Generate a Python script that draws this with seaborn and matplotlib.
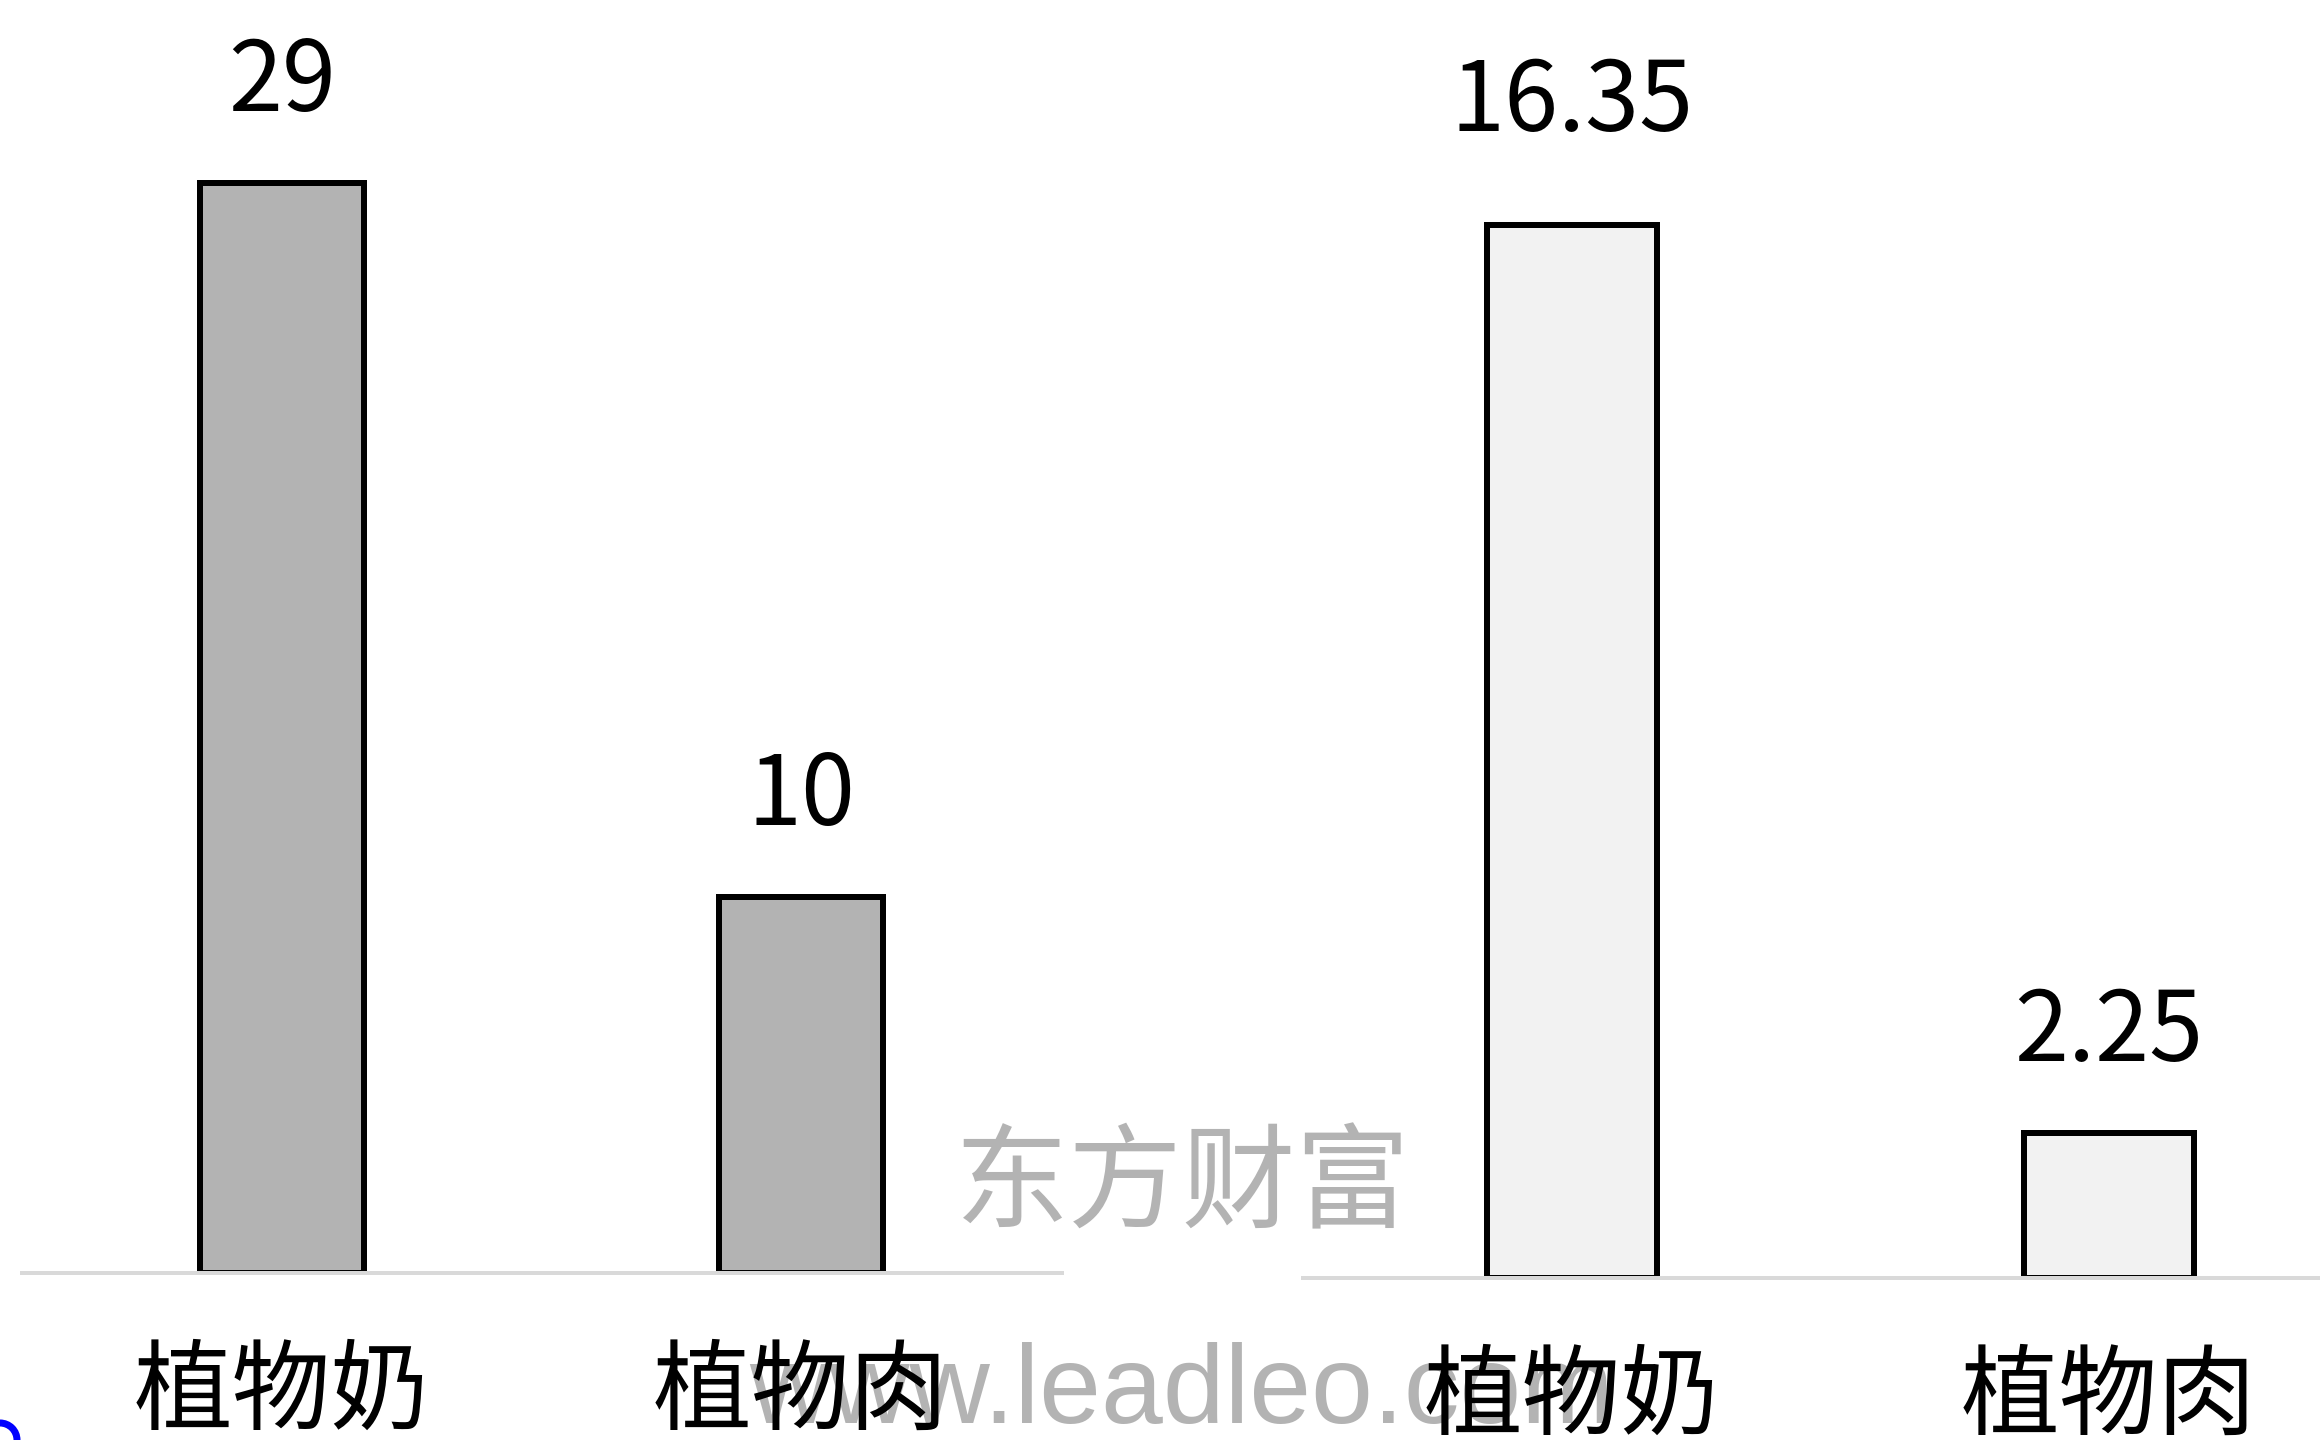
import matplotlib
matplotlib.use("Agg")
import matplotlib.pyplot as plt
from matplotlib.patches import Ellipse
import seaborn as sns
import pandas as pd

# ---- data ----
left_categories = ["植物奶", "植物肉"]
left_values = [29, 10]
left_labels = ["29", "10"]

right_categories = ["植物奶", "植物肉"]
right_values = [16.35, 2.25]
right_labels = ["16.35", "2.25"]

watermark_cn = "东方财富"
watermark_url = "www.leadleo.com"

# ---- style ----
sns.set_style("white")
plt.rcParams["font.family"] = ["Noto Sans CJK SC", "DejaVu Sans"]
plt.rcParams["font.weight"] = "light"

W, H = 2320, 1440
DPI = 100
fig = plt.figure(figsize=(W / DPI, H / DPI), dpi=DPI)
fig.patch.set_facecolor("white")

PX = 72.0 / DPI  # points per pixel


def make_panel(x0, x1, base_y, ymax, xlim, cats, vals, labels, color, width, pads):
    ax = fig.add_axes([x0 / W, 1 - base_y / H, (x1 - x0) / W, base_y / H])
    ax.patch.set_visible(False)
    df = pd.DataFrame({"cat": cats, "val": vals})
    sns.barplot(data=df, x="cat", y="val", ax=ax, color=color, saturation=1,
                edgecolor="black", linewidth=6 * PX, width=width, errorbar=None)
    ax.set_xlim(*xlim)
    ax.set_ylim(0, ymax)
    ax.set_xlabel("")
    ax.set_ylabel("")
    ax.set_yticks([])
    for s in ("left", "right", "top"):
        ax.spines[s].set_visible(False)
    ax.spines["bottom"].set_color("#d9d9d9")
    ax.spines["bottom"].set_linewidth(4 * PX)
    ax.spines["bottom"].set_zorder(5)
    ax.tick_params(axis="x", length=0, pad=50, labelsize=71, labelcolor="black")
    for bar, lab, pad in zip(ax.containers[0], labels, pads):
        ax.annotate(lab, (bar.get_x() + bar.get_width() / 2, bar.get_height()),
                    xytext=(0, pad), textcoords="offset points",
                    ha="center", va="bottom", fontsize=70, color="black")
    return ax


make_panel(22, 1062, 1273, 1273 / (1090 / 29), (-0.501, 1.503),
           left_categories, left_values, left_labels, "#b3b3b3", 0.316, (36, 36))
make_panel(1303, 2320, 1278, 1278 / (1053 / 16.35), (-0.501, 1.393),
           right_categories, right_values, right_labels, "#f2f2f2", 0.317, (52, 36))

# watermarks (behind axes content)
fig.text(1183 / W, 1 - 1186 / H, watermark_cn, fontsize=82, color="#b3b3b3",
         ha="center", va="center", zorder=-1)
fig.text(1182 / W, 1 - 1423 / H, watermark_url, fontsize=80,
         family=["Liberation Sans", "DejaVu Sans"], color="#b3b3b3",
         ha="center", va="baseline", zorder=-1)

# small blue fragment at bottom-left corner
fig.patches.append(Ellipse((0, 0), 34 / W, 34 / H, transform=fig.transFigure,
                           fill=False, edgecolor="#0000ff", linewidth=7 * PX))

fig.savefig("out.png", dpi=DPI, facecolor="white")
